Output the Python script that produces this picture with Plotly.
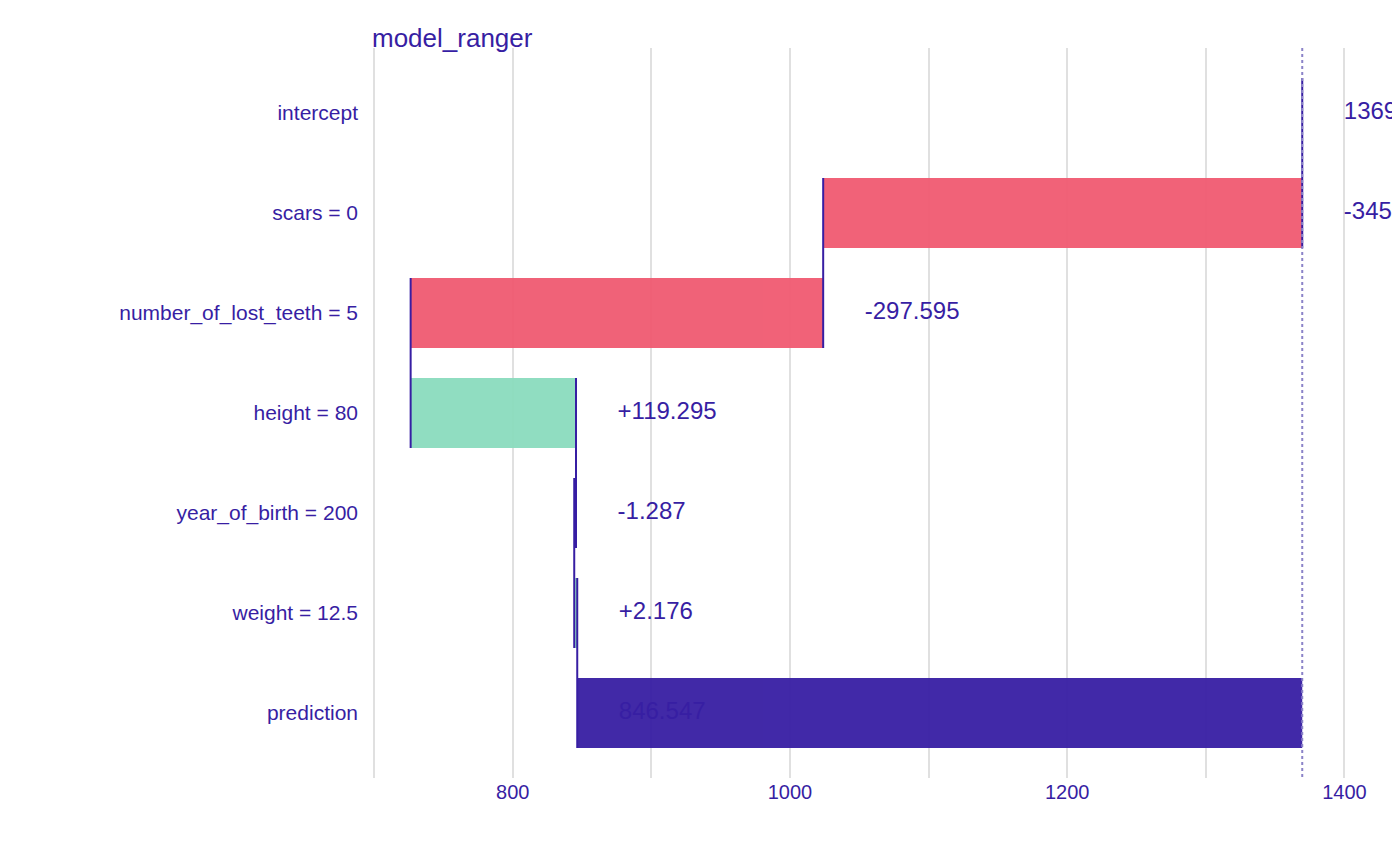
import plotly.graph_objects as go

labels = ["intercept", "scars = 0", "number_of_lost_teeth = 5", "height = 80",
          "year_of_birth = 200", "weight = 12.5", "prediction"]
contrib = [1369.530, -345.572, -297.595, 119.295, -1.287, 2.176]
prediction = 846.547
texts = ["1369.53", "-345.572", "-297.595", "+119.295", "-1.287", "+2.176", "846.547"]

RED, GREEN, PURPLE = "#f05a71", "#8bdcbe", "#371ea3"

starts, ends = [], []
cum = 0.0
for i, c in enumerate(contrib):
    s = cum if i > 0 else contrib[0]
    cum = cum + c
    starts.append(s)
    ends.append(cum)
starts.append(contrib[0]); ends.append(prediction)
base = [min(s, e) for s, e in zip(starts, ends)]
width = [abs(e - s) for s, e in zip(starts, ends)]
colors = [PURPLE] + [GREEN if c > 0 else RED for c in contrib[1:]] + [PURPLE]

fig = go.Figure()
fig.add_trace(go.Bar(y=list(range(7)), x=width, base=base, orientation="h", width=0.7,
                     marker=dict(color=colors, line=dict(width=0)), opacity=0.95,
                     hoverinfo="skip"))
cx, cy = [], []
for i in range(6):
    cx += [ends[i], ends[i], None]
    cy += [i - 0.35, i + 1 + 0.35, None]
fig.add_trace(go.Scatter(x=cx, y=cy, mode="lines", line=dict(color=PURPLE, width=2), hoverinfo="skip"))
fig.add_trace(go.Scatter(x=[contrib[0], contrib[0]], y=[-0.65, 6.65], mode="lines",
                         line=dict(color="#8b83c8", width=2, dash="dot"), hoverinfo="skip"))
tx = [max(s, e) + 30 for s, e in zip(starts[:6], ends[:6])] + [prediction + 30]
fig.add_trace(go.Scatter(x=tx, y=list(range(7)), mode="text", text=texts, textposition="middle right",
                         textfont=dict(size=24, color=PURPLE), cliponaxis=True, hoverinfo="skip"))

fig.update_layout(
    width=1400, height=866, showlegend=False, plot_bgcolor="white", paper_bgcolor="white",
    font=dict(family="Arial, Liberation Sans", color=PURPLE),
    margin=dict(l=355, r=15, t=40, b=96),
    title=dict(text="model_ranger", x=364/1400, xanchor="left", y=0.965, yanchor="middle",
               font=dict(size=26, color=PURPLE)),
)
fig.update_xaxes(range=[692, 1435], tickvals=[800, 1000, 1200, 1400], showgrid=True,
                 gridcolor="#e0e0e0", gridwidth=2, zeroline=False, tickfont=dict(size=20, color=PURPLE),
                 ticks="", minor=dict(tickvals=[700, 900, 1100, 1300], showgrid=True,
                                      gridcolor="#e0e0e0", gridwidth=2))
fig.update_yaxes(range=[6.65, -0.65], tickvals=list(range(7)), ticktext=labels, showgrid=False,
                 zeroline=False, tickfont=dict(size=21, color=PURPLE), ticklabelstandoff=4)
fig.write_html("out.html")
